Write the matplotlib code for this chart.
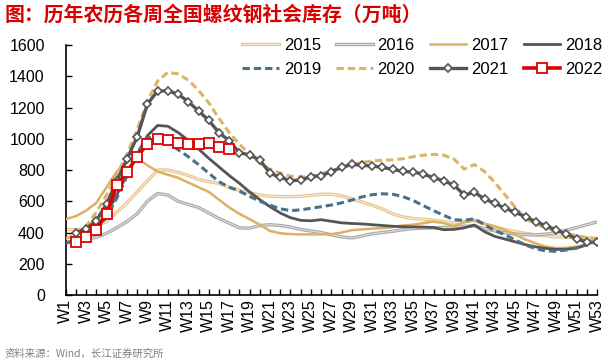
import matplotlib
matplotlib.use('Agg')
import matplotlib.pyplot as plt

plt.rcParams['font.family'] = ['Liberation Sans', 'Noto Sans CJK SC', 'DejaVu Sans']

weeks = list(range(1, 54))
week_labels = ['W%d' % w for w in weeks]

y2015 = [420, 418, 420, 440, 470, 530, 590, 660, 730, 800, 800, 785, 765, 740, 725, 715, 690, 670, 655, 640,
         632, 630, 630, 632, 638, 645, 645, 635, 615, 595, 575, 550, 520, 500, 490, 485, 478, 470, 460, 470,
         478, 455, 435, 420, 405, 395, 385, 378, 372, 370, 368, 365, 362]
y2016 = [335, 345, 355, 370, 395, 430, 470, 520, 600, 650, 640, 600, 580, 560, 525, 490, 460, 430, 428, 445,
         450, 445, 435, 420, 410, 400, 385, 372, 365, 378, 392, 400, 408, 418, 425, 428, 430, 432, 435, 440,
         442, 425, 410, 398, 390, 385, 385, 390, 400, 415, 432, 450, 468]
y2017 = [485, 505, 540, 590, 690, 790, 850, 875, 830, 790, 770, 750, 720, 690, 660, 610, 560, 520, 485, 450,
         410, 395, 390, 388, 388, 388, 390, 400, 415, 420, 425, 428, 435, 445, 450, 460, 470, 460, 440, 465,
         480, 455, 440, 415, 385, 355, 330, 310, 300, 302, 310, 325, 335]
y2018 = [330, 355, 390, 440, 520, 640, 770, 900, 1020, 1085, 1080, 1040, 990, 935, 875, 820, 765, 715, 660, 610,
         565, 525, 495, 478, 475, 482, 472, 462, 458, 455, 450, 445, 440, 437, 436, 435, 432, 418, 420, 430,
         448, 405, 375, 358, 340, 322, 308, 298, 292, 293, 300, 322]
y2019 = [335, 345, 370, 420, 500, 620, 760, 910, 1005, 1015, 975, 930, 885, 835, 780, 725, 690, 665, 632, 600,
         575, 552, 540, 545, 555, 565, 576, 590, 608, 628, 642, 648, 645, 630, 605, 572, 540, 510, 482, 478,
         488, 450, 412, 385, 352, 320, 296, 282, 280, 288, 302, 322]
y2020 = [360, 390, 440, 530, 640, 770, 900, 1060, 1240, 1370, 1425, 1415, 1375, 1310, 1230, 1130, 1040, 965, 900, 845,
         805, 780, 760, 755, 760, 775, 795, 815, 835, 848, 858, 862, 865, 872, 885, 895, 900, 895, 870, 805,
         835, 790, 720, 640, 560, 490, 455, 430, 410, 395, 380, 368, 360]
# 2021 and 2022 start at W2
y2021 = [399, 424, 476, 582, 730, 870, 1013, 1222, 1306, 1306, 1286, 1237, 1178, 1118, 1039, 988, 911, 896, 864,
         779, 753, 732, 736, 757, 764, 789, 817, 836, 830, 826, 817, 804, 791, 787, 774, 751, 730, 704, 640,
         657, 614, 587, 555, 529, 501, 469, 444, 416, 390, 360, 339, 339]
y2022 = [341, 369, 416, 520, 702, 787, 885, 966, 1000, 992, 973, 966, 966, 973, 945, 932]

fig = plt.figure(figsize=(6.08, 3.62), dpi=100)
ax = fig.add_axes([0.108, 0.185, 0.874, 0.6907])

l15a, = ax.plot(weeks[:len(y2015)], y2015, color='#e6c48c', lw=2.4, zorder=2)
l15b, = ax.plot(weeks[:len(y2015)], y2015, color='#f7ecd6', lw=0.8, zorder=2)
l16a, = ax.plot(weeks[:len(y2016)], y2016, color='#a8a8a8', lw=2.4, zorder=2)
l16b, = ax.plot(weeks[:len(y2016)], y2016, color='#dedede', lw=0.8, zorder=2)
l17, = ax.plot(weeks[:len(y2017)], y2017, color='#dfb062', lw=1.8, zorder=3)
l18, = ax.plot(weeks[:len(y2018)], y2018, color='#555555', lw=2.0, zorder=3)
l19, = ax.plot(weeks[:len(y2019)], y2019, color='#4b7088', lw=2.2, ls=(0, (2.4, 1.3)), zorder=3)
l20, = ax.plot(weeks[:len(y2020)], y2020, color='#dcb468', lw=2.2, ls=(0, (2.4, 1.3)), zorder=3)
l21, = ax.plot(weeks[1:1 + len(y2021)], y2021, color='#555555', lw=2.4, marker='D', markersize=4.5,
               markerfacecolor='white', markeredgecolor='#555555', markeredgewidth=1.2, zorder=4)
l22, = ax.plot(weeks[1:1 + len(y2022)], y2022, color='#e00000', lw=2.6, marker='s', markersize=7.5,
               markerfacecolor='white', markeredgecolor='#e00000', markeredgewidth=1.3, zorder=5)

ax.set_xlim(1, 53)
ax.set_ylim(0, 1600)
ax.set_yticks(range(0, 1601, 200))
ax.set_xticks(weeks)
ax.set_xticklabels([lab if i % 2 == 0 else '' for i, lab in enumerate(week_labels)], rotation=90)
ax.tick_params(axis='both', direction='in', length=4.5, width=1, labelsize=11.5, colors='black')
ax.tick_params(axis='y', pad=15)
ax.tick_params(axis='x', pad=3)
for s in ['top', 'right']:
    ax.spines[s].set_visible(False)
for s in ['left', 'bottom']:
    ax.spines[s].set_linewidth(1.2)

handles = [(l15a, l15b), l19, (l16a, l16b), l20, l17, l21, l18, l22]
labels = ['2015', '2019', '2016', '2020', '2017', '2021', '2018', '2022']
fig.legend(handles, labels, ncol=4, loc='upper left', bbox_to_anchor=(0.398, 0.895), frameon=False,
           fontsize=12, handlelength=2.2, handletextpad=0.3, columnspacing=0.9, labelspacing=0.55,
           borderpad=0, borderaxespad=0)

fig.text(0.008, 0.962, '图：历年农历各周全国螺纹钢社会库存（万吨）', color='#d90000', fontsize=14.3,
         fontweight='bold', family=['Noto Sans CJK SC', 'DejaVu Sans'], va='center', ha='left')
fig.text(0.008, 0.022, '资料来源：Wind，长江证券研究所', color='#808080', fontsize=7.5,
         family=['Noto Sans CJK SC', 'DejaVu Sans'], va='center', ha='left')

fig.savefig('out.png', dpi=100)
